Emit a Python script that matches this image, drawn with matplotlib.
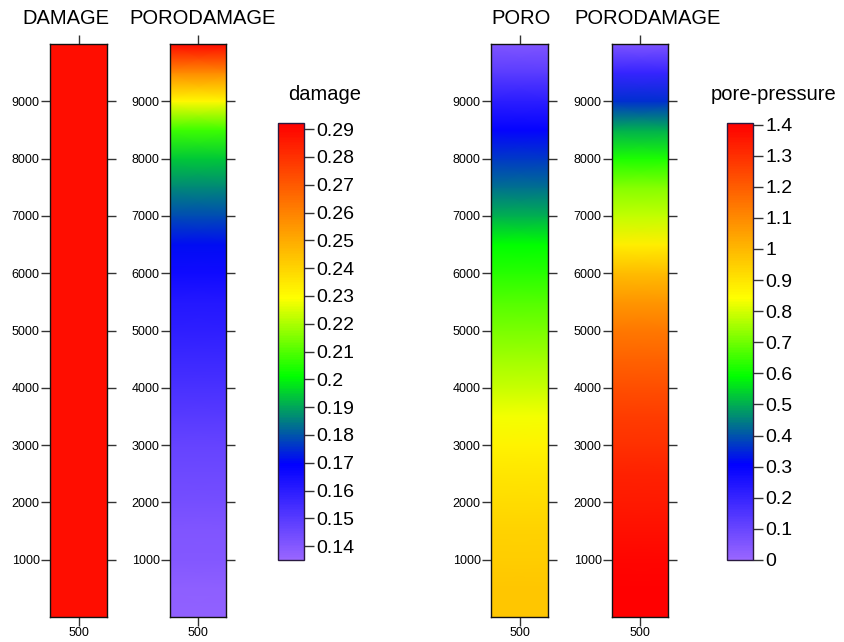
import numpy as np
import matplotlib
matplotlib.use("Agg")
import matplotlib.pyplot as plt
from matplotlib.colors import LinearSegmentedColormap, Normalize
from matplotlib.cm import ScalarMappable

plt.rcParams["font.family"] = ["Liberation Sans", "DejaVu Sans"]

# depth samples along each column (bottom -> top)
depth = [0, 500, 1000, 1500, 2000, 2500, 3000, 3500, 4000, 4500, 5000,
         5500, 6000, 6500, 7000, 7500, 8000, 8500, 9000, 9500, 10000]
width = [0, 1000]

# damage, elastic-damage model (uniform)
damage_plain = [0.289, 0.289, 0.289, 0.289, 0.289, 0.289, 0.289, 0.289, 0.289, 0.289, 0.289,
                0.289, 0.289, 0.289, 0.289, 0.289, 0.289, 0.289, 0.289, 0.289, 0.289]
# damage, coupled poro-damage model
damage_coupled = [0.137, 0.138, 0.140, 0.141, 0.143, 0.145, 0.147, 0.150, 0.153, 0.156, 0.159,
                  0.162, 0.166, 0.171, 0.179, 0.186, 0.194, 0.208, 0.231, 0.258, 0.290]
# pore pressure, poro-elastic model
pressure_poro = [0.97, 0.97, 0.95, 0.94, 0.92, 0.90, 0.87, 0.83, 0.79, 0.75, 0.71,
                 0.67, 0.63, 0.59, 0.50, 0.43, 0.37, 0.30, 0.22, 0.13, 0.05]
# pore pressure, coupled poro-damage model
pressure_coupled = [1.40, 1.40, 1.39, 1.37, 1.35, 1.33, 1.30, 1.27, 1.23, 1.19, 1.14,
                    1.075, 0.99, 0.88, 0.78, 0.72, 0.62, 0.50, 0.36, 0.20, 0.06]

damage_ticks = [0.14, 0.15, 0.16, 0.17, 0.18, 0.19, 0.2, 0.21, 0.22, 0.23, 0.24,
                0.25, 0.26, 0.27, 0.28, 0.29]
pressure_ticks = [0, 0.1, 0.2, 0.3, 0.4, 0.5, 0.6, 0.7, 0.8, 0.9, 1, 1.1, 1.2, 1.3, 1.4]
depth_ticks = [1000, 2000, 3000, 4000, 5000, 6000, 7000, 8000, 9000]

cmap = LinearSegmentedColormap.from_list(
    "rainbow_desat",
    [(0.0, "#9966ff"), (0.218, "#0000ff"), (0.42, "#00ff00"),
     (0.6, "#ffff00"), (1.0, "#ff0000")])

damage_norm = Normalize(vmin=0.135, vmax=0.2922)
pressure_norm = Normalize(vmin=0.0, vmax=1.405)

W, H = 844, 642
fig = plt.figure(figsize=(W / 100, H / 100), dpi=100)


def px_axes(x0, x1, y0, y1):
    return fig.add_axes([x0 / W, 1 - y1 / H, (x1 - x0) / W, (y1 - y0) / H])


def draw_column(x0, x1, values, norm, title, title_x):
    ax = px_axes(x0, x1, 44, 617)
    X, Y = np.meshgrid(width, depth)
    C = np.column_stack([values, values])
    ax.pcolormesh(X, Y, C, cmap=cmap, norm=norm, shading="gouraud")
    ax.set_xlim(0, 1000)
    ax.set_ylim(0, 10000)
    ax.set_xticks([500])
    ax.set_yticks(depth_ticks)
    ax.tick_params(axis="both", direction="out", length=6.5, width=1, color="#333333",
                   labelsize=9, pad=1, top=True, right=True,
                   labeltop=False, labelright=False)
    for s in ax.spines.values():
        s.set_linewidth(1.0)
        s.set_color("#111111")
    fig.text(title_x / W, 1 - 24 / H, title, ha="center", va="baseline", fontsize=14.5)
    return ax


def draw_colorbar(x0, x1, norm, ticks, label, label_x):
    cax = px_axes(x0, x1, 123, 560)
    cb = fig.colorbar(ScalarMappable(norm=norm, cmap=cmap), cax=cax, ticks=ticks)
    cb.ax.set_yticklabels([f"{t:g}" for t in ticks])
    cb.ax.tick_params(length=7, width=1, color="#333333", labelsize=14, pad=2)
    cb.outline.set_linewidth(1.0)
    cb.outline.set_edgecolor("#2a1a40")
    fig.text(label_x / W, 1 - 99.5 / H, label, ha="center", va="baseline", fontsize=14.5)


draw_column(50, 107, damage_plain, damage_norm, "DAMAGE", 66)
draw_column(170, 226, damage_coupled, damage_norm, "PORODAMAGE", 202.5)
draw_colorbar(278, 304, damage_norm, damage_ticks, "damage", 324.5)

draw_column(491, 548, pressure_poro, pressure_norm, "PORO", 521)
draw_column(612, 668, pressure_coupled, pressure_norm, "PORODAMAGE", 648)
draw_colorbar(727, 753, pressure_norm, pressure_ticks, "pore-pressure", 773.5)

fig.savefig("out.png", dpi=100)
